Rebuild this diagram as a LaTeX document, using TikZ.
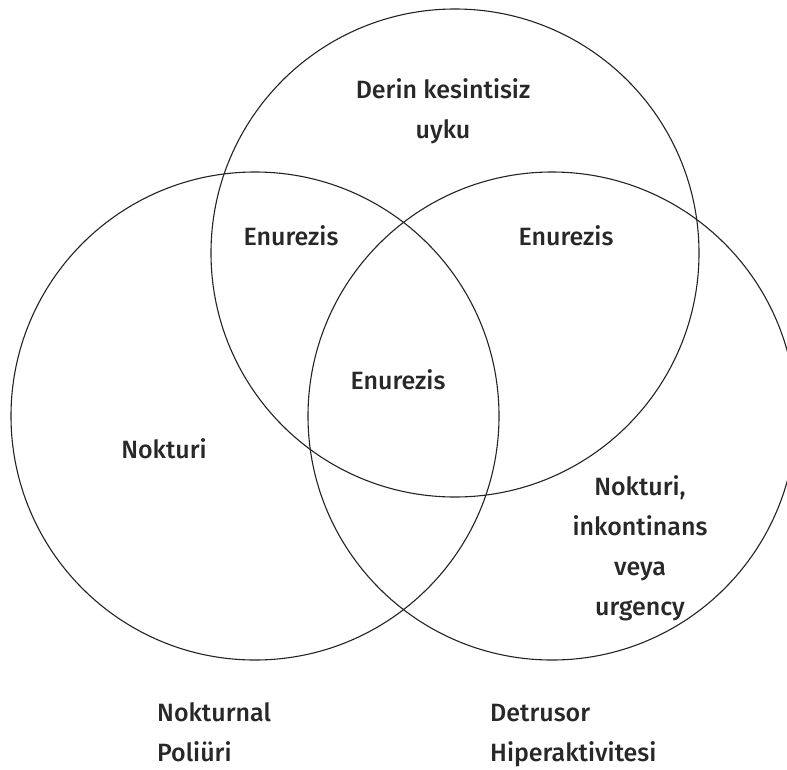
\documentclass[tikz,border=0pt]{standalone}
\usepackage{fontspec}
\setmainfont{Fira Sans Medium}
\usetikzlibrary{positioning}
\definecolor{linecolor}{RGB}{35, 35, 35}
\definecolor{textcolor}{RGB}{40, 40, 40}

\begin{document}
\begin{tikzpicture}[
  x = 1pt,
  y = -1pt,
  venn/.style = {
    circle,
    draw = linecolor,
    line width = 1.1pt,
    minimum size = 488pt,
    inner sep = 0pt
  },
  label/.style = {
    text = textcolor,
    inner sep = 0pt,
    align = center,
    font = \fontsize{25}{40}\selectfont
  },
  caption/.style = {
    label,
    align = left
  }
]
\useasboundingbox (0,0) rectangle (787,769);

% Sets
\node[venn] (uyku) at (455,253) {};
\node[venn] (poliuri) at (255,416) {};
\node[venn] (detrusor) at (552,416) {};

% Regions (base = last line)
\node[label, anchor=base] (derin) at (443,138) {Derin kesintisiz\\uyku};
\node[label, anchor=base] (enuleft) at (291,245) {Enurezis};
\node[label, anchor=base] (enuright) at (566,245) {Enurezis};
\node[label, anchor=base] (enumid) at (398,389) {Enurezis};
\node[label, anchor=base] (nokturi) at (164,458) {Nokturi};
\node[label, anchor=base] (urgency) at (640,615) {Nokturi,\\inkontinans\\veya\\urgency};

% Set names
\node[caption, anchor=base west] (nokturnal) at (157,761) {Nokturnal\\Poliüri};
\node[caption, anchor=base west] (hiper) at (490,761) {Detrusor\\Hiperaktivitesi};

\end{tikzpicture}
\end{document}
